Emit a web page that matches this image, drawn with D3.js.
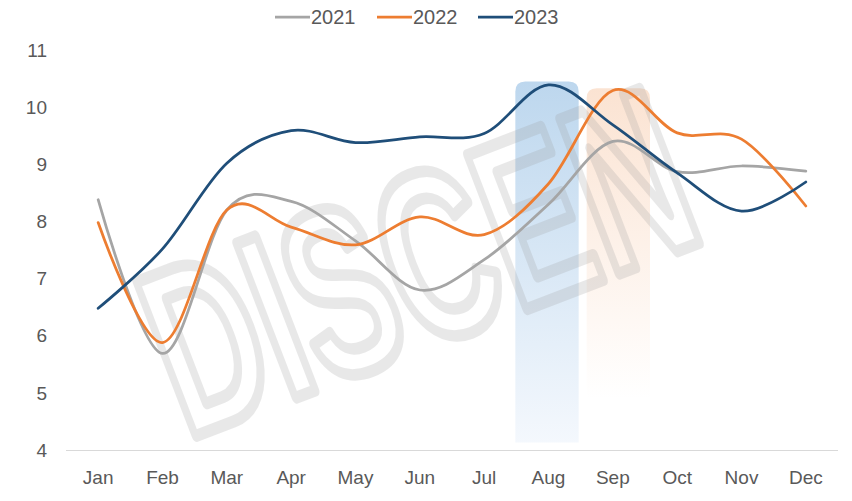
<!DOCTYPE html>
<html>
<head>
<meta charset="utf-8">
<script src="https://cdn.jsdelivr.net/npm/d3@7"></script>
<style>
  html, body { margin: 0; padding: 0; background: #fff; }
  svg { display: block; font-family: "Liberation Sans", Arial, sans-serif; }
</style>
</head>
<body>
<svg id="chart" width="852" height="501"></svg>
<script>
const months = ["Jan","Feb","Mar","Apr","May","Jun","Jul","Aug","Sep","Oct","Nov","Dec"];
const seriesNames = ["2021","2022","2023"];
const values2021 = [8.38, 5.69, 8.2, 8.35, 7.66, 6.8, 7.33, 8.3, 9.4, 8.87, 8.97, 8.88];
const values2022 = [7.98, 5.88, 8.2, 7.9, 7.59, 8.08, 7.77, 8.66, 10.29, 9.55, 9.44, 8.27];
const values2023 = [6.48, 7.52, 9.02, 9.59, 9.38, 9.48, 9.54, 10.39, 9.69, 8.85, 8.18, 8.69];
const seriesColors = ["#A5A5A5", "#ED7D31", "#1F4E79"];
const yTicks = [4, 5, 6, 7, 8, 9, 10, 11];
const bandMonths = ["Aug", "Sep"];
const bandTop = [10.45, 10.33];
const bandBottom = [4.13, 4.9];
const bandColors = [["#BDD7EE", "#F4F8FD"], ["#FBE3D2", "#FFFFFF"]];
const watermarkText = "DISCEN";

const svg = d3.select("#chart");
const W = 852, H = 501;
const margin = {left: 66, right: 14, top: 50, bottom: 50};
const x = d3.scaleBand().domain(months).range([margin.left, W - margin.right]);
const y = d3.scaleLinear().domain([4, 11]).range([H - margin.bottom - 1, margin.top]);
const cx = m => x(m) + x.bandwidth() / 2;

const defs = svg.append("defs");
bandColors.forEach((c, i) => {
  const g = defs.append("linearGradient").attr("id", "bandGrad" + i)
    .attr("x1", 0).attr("y1", 0).attr("x2", 0).attr("y2", 1);
  g.append("stop").attr("offset", "0%").attr("stop-color", c[0]);
  g.append("stop").attr("offset", "100%").attr("stop-color", c[1]);
});

// highlight bands
const bandOffsets = [-1, 6];
bandMonths.forEach((m, i) => {
  const x0 = x(m) + bandOffsets[i], w = x.bandwidth() - 1;
  const t = y(bandTop[i]), b = y(bandBottom[i]), r = 10;
  const p = `M${x0},${b} L${x0},${t + r} Q${x0},${t} ${x0 + r},${t} L${x0 + w - r},${t} Q${x0 + w},${t} ${x0 + w},${t + r} L${x0 + w},${b} Z`;
  svg.append("path").attr("d", p).attr("fill", `url(#bandGrad${i})`);
});

// watermark
svg.append("text")
  .attr("transform", "translate(418,262) rotate(-21)")
  .attr("text-anchor", "middle")
  .attr("dominant-baseline", "central")
  .attr("font-size", 240)
  .attr("font-weight", "bold")
  .attr("textLength", 560)
  .attr("lengthAdjust", "spacingAndGlyphs")
  .attr("fill", "none")
  .attr("stroke", "#9a9a9a")
  .attr("stroke-width", 12)
  .attr("stroke-linejoin", "round")
  .attr("opacity", 0.22)
  .text(watermarkText);

// y tick labels
svg.append("g").selectAll("text").data(yTicks).join("text")
  .attr("x", 47).attr("y", d => y(d)).attr("dy", "0.35em")
  .attr("text-anchor", "end").attr("font-size", 19).attr("fill", "#595959")
  .text(d => d);

// x axis line
svg.append("line")
  .attr("x1", margin.left).attr("x2", W - margin.right)
  .attr("y1", y(4) + 0.5).attr("y2", y(4) + 0.5)
  .attr("stroke", "#D9D9D9").attr("stroke-width", 1);

// x labels
svg.append("g").selectAll("text").data(months).join("text")
  .attr("x", d => cx(d)).attr("y", 484)
  .attr("text-anchor", "middle").attr("font-size", 19).attr("fill", "#595959")
  .text(d => d);

// lines
const allSeries = [values2021, values2022, values2023];
const line = d3.line().x((d, i) => cx(months[i])).y(d => y(d)).curve(d3.curveCardinal.tension(0));
allSeries.forEach((vals, i) => {
  svg.append("path").datum(vals).attr("d", line)
    .attr("fill", "none").attr("stroke", seriesColors[i])
    .attr("stroke-width", 2.75).attr("stroke-linecap", "round");
});

// legend
const legendX = [275, 377, 478];
const lg = svg.append("g");
seriesNames.forEach((n, i) => {
  lg.append("line").attr("x1", legendX[i]).attr("x2", legendX[i] + 35)
    .attr("y1", 17).attr("y2", 17).attr("stroke", seriesColors[i]).attr("stroke-width", 2.75);
  lg.append("text").attr("x", legendX[i] + 36).attr("y", 17).attr("dy", "0.35em")
    .attr("font-size", 20).attr("fill", "#595959").text(n);
});
</script>
</body>
</html>
